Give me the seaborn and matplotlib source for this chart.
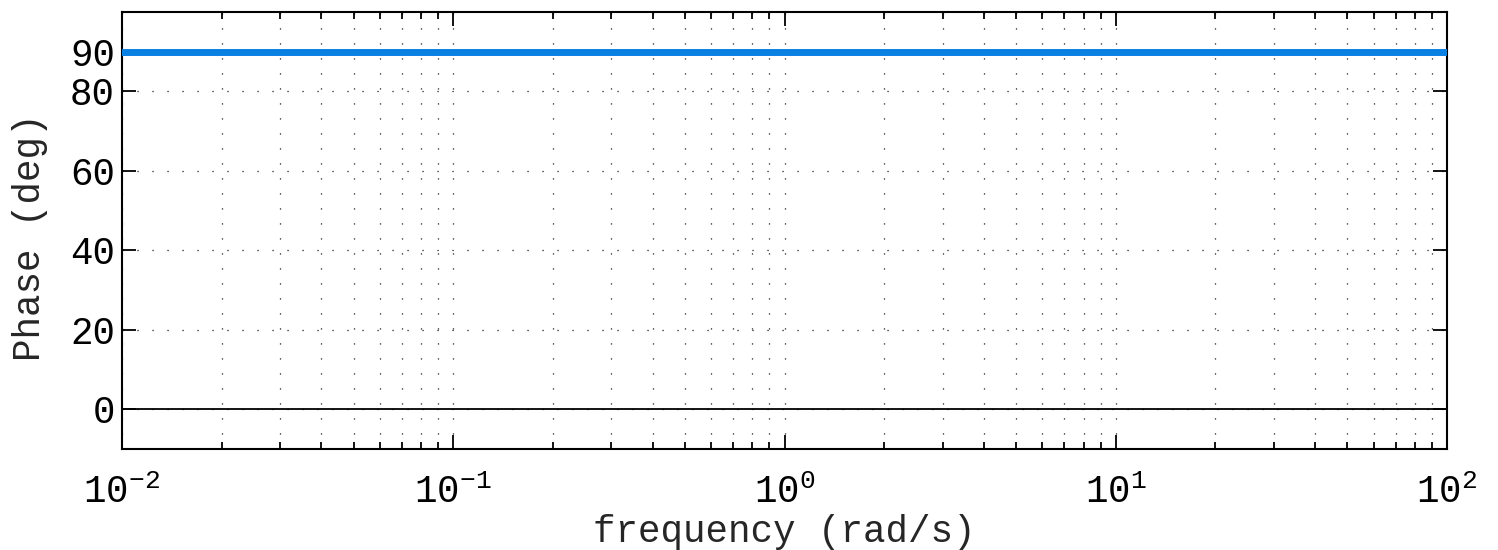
import numpy as np
import pandas as pd
import matplotlib
matplotlib.use("Agg")
import matplotlib.pyplot as plt
import matplotlib.ticker as mticker
import seaborn as sns

# phase response of a pure differentiator: flat +90 deg
freq = [0.01, 0.1, 1.0, 10.0, 100.0]   # rad/s
phase = [90, 90, 90, 90, 90]           # deg
y_ticks = [0, 20, 40, 60, 80, 90]

LINE_BLUE = "#0a80e2"
MONO = "Liberation Mono"

sns.set_theme(style="white")
plt.rcParams["font.family"] = [MONO, "DejaVu Sans"]
plt.rcParams["mathtext.fontset"] = "custom"
plt.rcParams["mathtext.rm"] = MONO
plt.rcParams["mathtext.it"] = MONO
plt.rcParams["lines.scale_dashes"] = False

df = pd.DataFrame({"freq": freq, "phase": phase})

fig = plt.figure(figsize=(14.98, 5.5), dpi=100)
ax = fig.add_axes([122 / 1498, 1 - 449 / 550, 1325 / 1498, 437 / 550])

sns.lineplot(data=df, x="freq", y="phase", ax=ax, color=LINE_BLUE,
             linewidth=5, zorder=4)
ax.axhline(0, color="black", linewidth=1.3, zorder=3)

ax.set_xscale("log")
ax.set_xlim(1e-2, 1e2)
ax.set_ylim(-10, 100)
ax.set_yticks(y_ticks)
ax.xaxis.set_major_locator(mticker.LogLocator(base=10, numticks=10))
ax.xaxis.set_minor_locator(mticker.LogLocator(base=10, subs=np.arange(2, 10), numticks=20))
ax.xaxis.set_minor_formatter(mticker.NullFormatter())

dots = (0, (0.8, 10))
ax.grid(True, which="major", axis="both", color="black", linestyle=dots, linewidth=0.9)
ax.grid(True, which="minor", axis="x", color="black", linestyle=dots, linewidth=0.9)

ax.tick_params(which="both", direction="in", top=True, right=True,
               bottom=True, left=True, colors="black", width=1.3)
ax.tick_params(which="major", length=10, labelsize=27)
ax.tick_params(which="minor", length=5)
ax.tick_params(axis="y", which="major", pad=5)
ax.tick_params(axis="x", which="major", pad=18)

for s in ax.spines.values():
    s.set_visible(True)
    s.set_color("black")
    s.set_linewidth(1.5)

ax.set_xlabel("frequency (rad/s)", fontsize=27, labelpad=2)
ax.set_ylabel("Phase (deg)", fontsize=27)
ax.yaxis.set_label_coords(-0.056, 0.485)

fig.savefig("out.png", dpi=100)
